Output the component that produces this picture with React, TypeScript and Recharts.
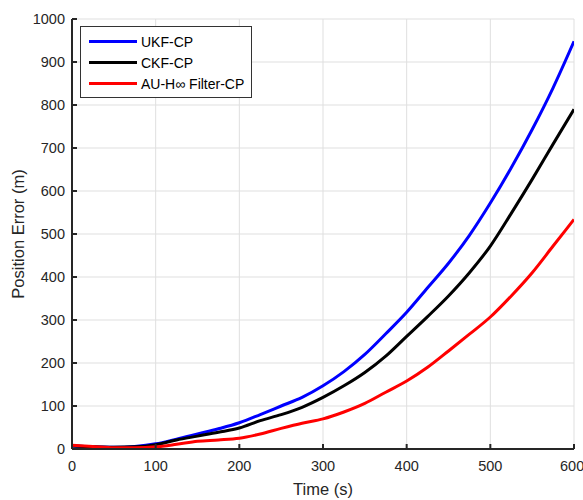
import {CartesianGrid, Legend, Line, LineChart, XAxis, YAxis} from "recharts";

const time = [0, 25, 50, 75, 100, 125, 150, 175, 200, 225, 250, 275, 300, 325, 350, 375, 400, 425, 450, 475, 500, 525, 550, 575, 600];
const ukf = [7, 5, 4, 6, 12, 23, 35, 47, 61, 80, 100, 120, 147, 180, 220, 268, 318, 375, 432, 497, 572, 654, 743, 840, 948];
const ckf = [7, 5, 4, 5, 10, 21, 30, 39, 49, 66, 80, 97, 120, 147, 178, 216, 262, 308, 356, 410, 472, 548, 627, 709, 790];
const auh = [9, 6, 3, 3, 5, 11, 18, 21, 25, 35, 48, 60, 70, 86, 106, 132, 158, 190, 228, 267, 307, 356, 410, 472, 534];

const xTicks = [0, 100, 200, 300, 400, 500, 600];
const yTicks = [0, 100, 200, 300, 400, 500, 600, 700, 800, 900, 1000];

const series = [
    {key: "ukf", name: "UKF-CP", color: "#0000ff"},
    {key: "ckf", name: "CKF-CP", color: "#000000"},
    {key: "auh", name: "AU-H\u221e Filter-CP", color: "#ff0000"},
];

const data = time.map((t, i) => ({t, ukf: ukf[i], ckf: ckf[i], auh: auh[i]}));

const font = "'Liberation Sans', Arial, Helvetica, sans-serif";
const axisColor = "#262626";

function LegendBox() {
    return (
        <div style={{
            border: "1px solid #333",
            background: "#fff",
            padding: "4px 0 3px 8px",
            fontFamily: font,
            fontSize: 14,
            color: "#000",
            width: 172,
            boxSizing: "border-box",
        }}>
            {series.map(s => (
                <div key={s.key} style={{display: "flex", alignItems: "center", height: 21}}>
                    <span style={{width: 48, height: 3, background: s.color, marginRight: 4}}/>
                    <span>{s.name}</span>
                </div>
            ))}
        </div>
    );
}

export default function App() {
    return (
        <div style={{position: "absolute", left: 0, top: 0, width: 583, height: 500, background: "#fff"}}>
            <LineChart width={583} height={500} data={data}
                       margin={{top: 19, right: 9, bottom: 11, left: 0}}>
                <CartesianGrid stroke="#dfdfdf" strokeWidth={1}/>
                <XAxis dataKey="t" type="number" domain={[0, 600]} ticks={xTicks} height={40}
                       tickSize={-5} tickMargin={17} allowDataOverflow
                       axisLine={{stroke: axisColor, strokeWidth: 2}} tickLine={{stroke: axisColor, strokeWidth: 2}}
                       tick={{fill: axisColor, fontSize: 14.5, fontFamily: font}}
                       label={{value: "Time (s)", position: "bottom", offset: -6, fill: axisColor, fontSize: 16.5, fontFamily: font}}/>
                <XAxis xAxisId="top" orientation="top" dataKey="t" type="number" domain={[0, 600]} ticks={xTicks}
                       height={0} tickSize={-5} tick={false}
                       axisLine={{stroke: axisColor, strokeWidth: 2}} tickLine={{stroke: axisColor, strokeWidth: 2}}/>
                <YAxis type="number" domain={[0, 1000]} ticks={yTicks} width={72}
                       tickSize={-5} tickMargin={12} allowDataOverflow
                       axisLine={{stroke: axisColor, strokeWidth: 2}} tickLine={{stroke: axisColor, strokeWidth: 2}}
                       tick={{fill: axisColor, fontSize: 14.5, fontFamily: font}}
                       label={{value: "Position Error (m)", angle: -90, position: "insideLeft", offset: 18,
                           fill: axisColor, fontSize: 16.5, fontFamily: font, style: {textAnchor: "middle"}}}/>
                <YAxis yAxisId="right" orientation="right" type="number" domain={[0, 1000]} ticks={yTicks}
                       width={0} tickSize={-5} tick={false}
                       axisLine={{stroke: axisColor, strokeWidth: 2}} tickLine={{stroke: axisColor, strokeWidth: 2}}/>
                {series.map(s => (
                    <Line key={s.key} type="monotone" dataKey={s.key} name={s.name} stroke={s.color}
                          strokeWidth={3} dot={false} isAnimationActive={false}/>
                ))}
                <Legend layout="vertical" align="center" verticalAlign="middle" content={<LegendBox/>}
                        wrapperStyle={{position: "absolute", left: 80, top: 26, width: 172, height: "auto"}}/>
            </LineChart>
        </div>
    );
}
